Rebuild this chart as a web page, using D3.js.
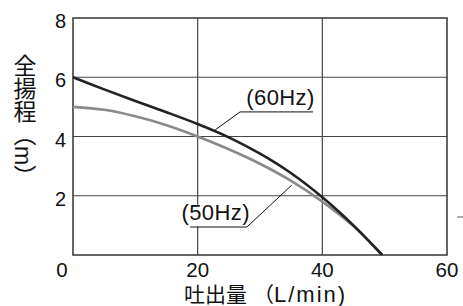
<!DOCTYPE html>
<html>
<head>
<meta charset="utf-8">
<script src="https://cdn.jsdelivr.net/npm/d3@7"></script>
<style>
  body { margin: 0; background: #fff; }
  text { font-family: "Liberation Sans", "Noto Sans CJK JP", sans-serif; fill: #111; }
</style>
</head>
<body>
<div id="chart"></div>
<script>
// flow (L/min) vs total head (m)
const flow = [0, 5, 10, 15, 20, 25, 30, 35, 40, 45, 49.6];
const head60 = [6, 5.59, 5.2, 4.82, 4.42, 3.97, 3.42, 2.76, 1.95, 1.0, 0];
const head50 = [5, 4.9, 4.68, 4.38, 4.0, 3.57, 3.08, 2.5, 1.8, 0.97, 0];
const xTicks = [0, 20, 40, 60];
const yTicks = [2, 4, 6, 8];
const labels = ["(60Hz)", "(50Hz)"];

function updateChart() {
  let margin = {top: 18, bottom: 51, right: 16, left: 73};
  let W = 463, H = 306;
  let w = W - margin.left - margin.right;
  let h = H - margin.top - margin.bottom;

  let svg = d3.select("#chart").append("svg")
    .attr("width", W)
    .attr("height", H);

  let g = svg.append("g")
    .attr("transform", `translate(${margin.left}, ${margin.top})`);

  let x = d3.scaleLinear().domain([0, 60]).range([0, w]);
  let y = d3.scaleLinear().domain([0, 8]).range([h, 0]);

  // grid lines
  g.append("g")
    .selectAll("line")
    .data(xTicks.slice(1, -1))
    .enter().append("line")
    .attr("x1", d => x(d)).attr("x2", d => x(d))
    .attr("y1", 0).attr("y2", h)
    .attr("stroke", "#444").attr("stroke-width", 1.2);

  g.append("g")
    .selectAll("line")
    .data(yTicks.slice(0, -1))
    .enter().append("line")
    .attr("x1", 0).attr("x2", w)
    .attr("y1", d => y(d)).attr("y2", d => y(d))
    .attr("stroke", "#444").attr("stroke-width", 1.2);

  // frame
  g.append("rect")
    .attr("x", 0).attr("y", 0)
    .attr("width", w).attr("height", h)
    .attr("fill", "none")
    .attr("stroke", "#333").attr("stroke-width", 1.5);

  // tick labels
  g.append("g")
    .selectAll("text")
    .data(xTicks)
    .enter().append("text")
    .attr("x", d => x(d) + (d === 0 ? -11 : 0))
    .attr("y", h + 22)
    .attr("text-anchor", "middle")
    .attr("font-size", "20.5px")
    .text(d => d);

  g.append("g")
    .selectAll("text")
    .data(yTicks)
    .enter().append("text")
    .attr("x", -7)
    .attr("y", d => y(d) + 10)
    .attr("text-anchor", "end")
    .attr("font-size", "20px")
    .text(d => d);

  // curves
  let line = d3.line()
    .x(d => x(d[0]))
    .y(d => y(d[1]))
    .curve(d3.curveCatmullRom.alpha(0.5));

  g.append("path")
    .datum(d3.zip(flow, head50))
    .attr("d", line)
    .attr("fill", "none")
    .attr("stroke", "#8a8a8a")
    .attr("stroke-width", 2.6);

  g.append("path")
    .datum(d3.zip(flow, head60))
    .attr("d", line)
    .attr("fill", "none")
    .attr("stroke", "#222")
    .attr("stroke-width", 2.6);

  // callouts
  let lead = d3.line().x(d => x(d[0])).y(d => y(d[1]));

  g.append("rect")
    .attr("x", x(17.4)).attr("y", y(1.7))
    .attr("width", x(28) - x(17.4)).attr("height", y(0.96) - y(1.7))
    .attr("fill", "#fff");

  g.append("path")
    .attr("d", lead([[22.8, 4.22], [26.8, 4.83], [38.5, 4.83]]))
    .attr("fill", "none").attr("stroke", "#111").attr("stroke-width", 1);
  g.append("path")
    .attr("d", lead([[18.8, 0.945], [27.9, 0.945], [35.1, 2.36]]))
    .attr("fill", "none").attr("stroke", "#111").attr("stroke-width", 1);

  g.append("text")
    .attr("x", x(27.8)).attr("y", y(5.06))
    .attr("font-size", "22px")
    .attr("letter-spacing", "0.4px")
    .text(labels[0]);
  g.append("text")
    .attr("x", x(17.4)).attr("y", y(1.18))
    .attr("font-size", "22px")
    .attr("letter-spacing", "0.4px")
    .text(labels[1]);

  // small mark at right edge
  svg.append("line")
    .attr("x1", 457).attr("x2", 463)
    .attr("y1", 217).attr("y2", 217)
    .attr("stroke", "#777").attr("stroke-width", 1.2);

  // axis titles
  let xt = svg.append("text")
    .attr("x", 184).attr("y", 302)
    .attr("font-size", "21px")
    .text("吐出量");
  xt.append("tspan").attr("dx", 6).text("（");
  xt.append("tspan")
    .attr("font-size", "22px")
    .attr("letter-spacing", "2px")
    .text("L/min)");

  svg.append("text")
    .attr("transform", "translate(23, 54)")
    .attr("writing-mode", "vertical-rl")
    .attr("font-size", "23px")
    .text("全揚程（m）");
}

updateChart();
</script>
</body>
</html>
